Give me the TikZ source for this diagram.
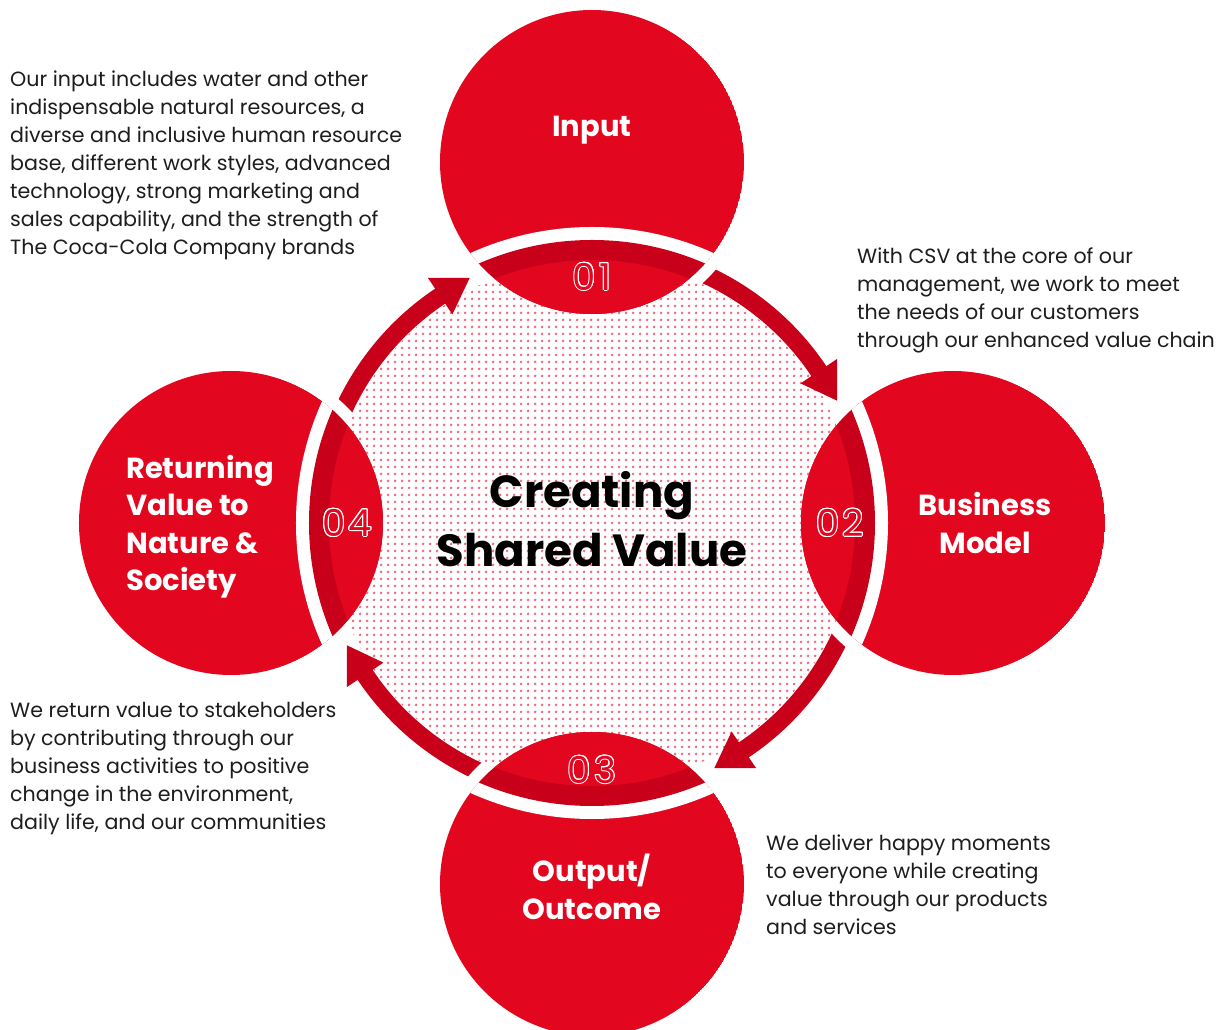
\documentclass[tikz,border=0pt]{standalone}
\usepackage{fontspec}
\setmainfont{Poppins}
\usepackage{contour}
\contourlength{1.0pt}
\usetikzlibrary{patterns.meta}

\definecolor{cokered}{RGB}{226,6,30}
\definecolor{cokedark}{RGB}{200,0,26}
\definecolor{dotpink}{RGB}{238,108,130}
\definecolor{bodytext}{RGB}{30,28,30}

% square halftone dot grid for the core disc
\tikzdeclarepattern{
  name=pinkdots,
  type=colored,
  bounding box={(0pt,0pt) and (7pt,7pt)},
  tile size={(7pt,7pt)},
  code={
    \fill[dotpink] (3.5pt,3.5pt) circle (1.7pt);
  }
}

\tikzset{
  bodyblock/.style={anchor=north west, inner sep=0pt, align=left, text=bodytext,
    font=\fontsize{20.6}{28}\selectfont},
  labeltext/.style={inner sep=0pt, text=white, font=\fontsize{29}{37.3}\selectfont\bfseries},
  stepnum/.style={inner sep=0pt, text=cokered, font=\fontsize{37}{37}\selectfont},
  arrowbody/.style={draw=cokedark, line width=18pt},
}

% clockwise arrow on the ring: #1 start angle, #2 angle of the tip
\newcommand{\cyclearrow}[2]{%
  \draw[arrowbody] (#1:273) arc[start angle=#1, end angle={#2+6.8}, radius=273];
  \fill[cokedark] (#2:274) -- ({#2+7.3}:251) -- ({#2+7.3}:295) -- cycle;
}

\begin{document}
\begin{tikzpicture}[x=1pt,y=1pt]
\useasboundingbox (-592,-507) rectangle (636,523);

\coordinate (hub) at (0,0);
\coordinate (cin) at (0,361);
\coordinate (cbm) at (361,0);
\coordinate (cout) at (0,-361);
\coordinate (cret) at (-361,0);

% dotted core
\fill[white] (hub) circle (263);
\fill[pattern=pinkdots] (hub) circle (263);

% cycle arrows
\cyclearrow{75}{26.5}
\cyclearrow{-15}{-63.5}
\cyclearrow{-105}{-153.5}
\cyclearrow{165}{116.5}

% white gaps between arrow ends and the stage discs
\begin{scope}[even odd rule]
  \clip (hub) circle (300) (hub) circle (263.5);
  \foreach \c in {cin,cbm,cout,cret} \fill[white] (\c) circle (164);
\end{scope}

% stage discs with their overlap lenses
\foreach \c in {cin,cbm,cout,cret} {
  \begin{scope}
    \clip (\c) circle (152);
    \fill[cokered] (\c) circle (152);
    \fill[white] (hub) circle (296);
    \fill[cokedark] (hub) circle (283);
    \fill[cokered] (hub) circle (263);
  \end{scope}
}

% step numbers
\node[stepnum] (n1) at (0,246) {\contour{white}{0\kern3pt 1}};
\node[stepnum] (n2) at (248,0) {\contour{white}{0\kern3pt 2}};
\node[stepnum] (n3) at (0,-247) {\contour{white}{0\kern3pt 3}};
\node[stepnum] (n4) at (-245,0) {\contour{white}{0\kern3pt 4}};

% stage labels
\node[labeltext, anchor=base] (lin) at (0,386) {Input};
\node[labeltext, align=center] (lbm) at (393,0) {Business\\Model};
\node[labeltext, align=center, anchor=north] (lout) at (0,-331) {Output/\\Outcome};
\node[labeltext, align=left, anchor=north west] (lret) at (-466,68) {Returning\\Value to\\Nature \&\\Society};

% centre title
\node[inner sep=0pt, align=center, anchor=north, font=\fontsize{45}{59}\selectfont\bfseries]
  (title) at (0,52) {Creating\\Shared Value};

% descriptions
\node[bodyblock] (txtin) at (-582,452.5) {Our input includes water and other\\indispensable natural resources, a\\diverse and inclusive human resource\\base, different work styles, advanced\\technology, strong marketing and\\sales capability, and the strength of\\The Coca-Cola Company brands};
\node[bodyblock] (txtbm) at (265,275) {With CSV at the core of our\\management, we work to meet\\the needs of our customers\\through our enhanced value chain};
\node[bodyblock] (txtret) at (-582,-179) {We return value to stakeholders\\by contributing through our\\business activities to positive\\change in the environment,\\daily life, and our communities};
\node[bodyblock] (txtout) at (174,-312) {We deliver happy moments\\to everyone while creating\\value through our products\\and services};
\end{tikzpicture}
\end{document}
